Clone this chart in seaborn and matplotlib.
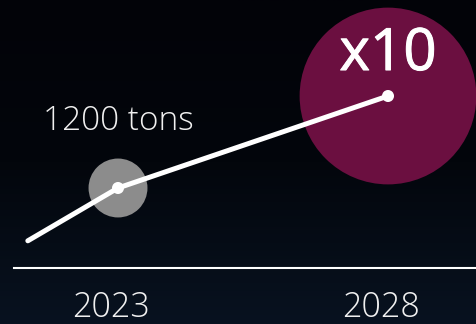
import matplotlib
matplotlib.use('Agg')
import matplotlib.pyplot as plt
import matplotlib.patheffects as pe
import numpy as np
import pandas as pd
import seaborn as sns

# data
years = [2021.33, 2023, 2028]
tons = [320, 1200, 12000]
highlight_years = [2023, 2028]
highlight_tons = [1200, 12000]
highlight_colors = ["#8c8c8c", "#6b0f40"]
highlight_sizes = [1800, 16200]
tick_labels = ["2023", "2028"]

sns.set_theme(style="white")
plt.rcParams['font.family'] = ['Open Sans', 'DejaVu Sans']

df = pd.DataFrame({'year': years, 'tons': tons})

fig = plt.figure(figsize=(4.77, 3.24), dpi=100)

# dark background with slight gradient
bg = fig.add_axes([0, 0, 1, 1])
grad = np.linspace(0, 1, 256).reshape(-1, 1)
cmap = matplotlib.colors.LinearSegmentedColormap.from_list('bg', ['#020308', '#03060c', '#081220'])
bg.imshow(grad, aspect='auto', cmap=cmap, extent=[0, 1, 0, 1], origin='upper')
bg.axis('off')

ax = fig.add_axes([14 / 477, 56 / 324, 463 / 477, 268 / 324])
ax.patch.set_alpha(0)

# circles behind the line
for yr, t, c, s in zip(highlight_years, highlight_tons, highlight_colors, highlight_sizes):
    ax.scatter(yr, t, s=s, color=c, edgecolor='none', zorder=1, clip_on=False)

sns.lineplot(data=df, x='year', y='tons', color='white', linewidth=3.6, ax=ax,
             zorder=3, clip_on=False)
sns.scatterplot(x=highlight_years, y=highlight_tons, color='white', s=75,
                edgecolor='none', zorder=4, ax=ax, clip_on=False)

ax.set_yscale('log')
ax.set_xlim(2021.074, 2029.648)
ax.set_ylim(162, 132700)

ax.annotate('{} tons'.format(tons[1]), xy=(2023, tons[1]),
            xytext=(0, 41.8), textcoords='offset points', ha='center', va='baseline',
            color='#f0f0f0', fontsize=24, fontweight='light')
ax.annotate('x{:.0f}'.format(tons[2] / tons[1]), xy=(2028, tons[2]),
            xytext=(0, 18.7), textcoords='offset points', ha='center', va='baseline',
            color='white', fontsize=42, fontweight='normal',
            path_effects=[pe.withStroke(linewidth=0.7, foreground='white')])

# year labels under the baseline
for yr, lbl in zip(highlight_years, tick_labels):
    ax.annotate(lbl, xy=(yr, 0), xycoords=('data', 'axes fraction'),
                xytext=(-4.7, -35.0), textcoords='offset points', ha='center',
                va='baseline', color='#f0f0f0', fontsize=24.5, fontweight='light',
                annotation_clip=False)

ax.set_xticks([])
ax.set_yticks([])
ax.minorticks_off()
ax.set_xlabel('')
ax.set_ylabel('')
for side in ['left', 'top', 'right']:
    ax.spines[side].set_visible(False)
ax.spines['bottom'].set_color('white')
ax.spines['bottom'].set_linewidth(1.5)

fig.savefig('out.png', dpi=100)
